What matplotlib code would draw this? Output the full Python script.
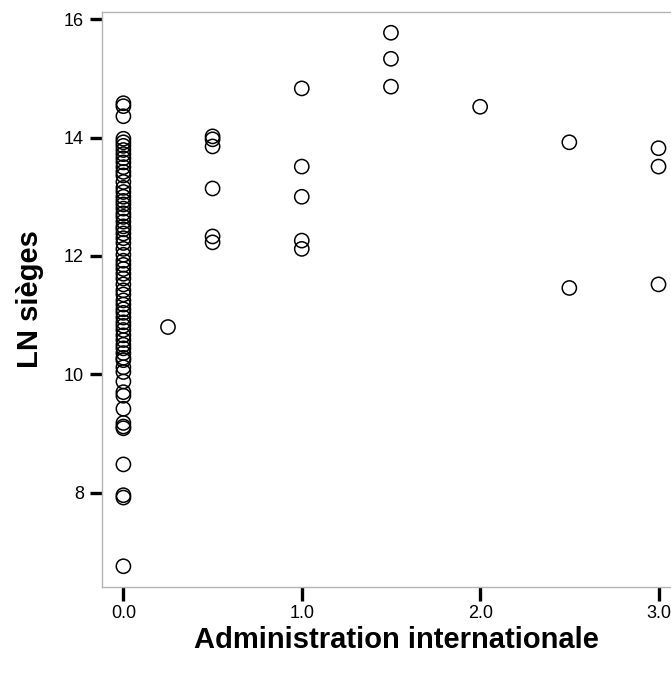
import numpy as np
import matplotlib
matplotlib.use("Agg")
import matplotlib.pyplot as plt

plt.rcParams['font.family'] = ['Liberation Sans', 'DejaVu Sans']

#%% donnees
admin_0 = [14.58, 14.53, 14.36, 13.98, 13.92, 13.86, 13.79, 13.72, 13.65, 13.58,
           13.50, 13.42, 13.36, 13.25, 13.15, 13.08, 13.00, 12.93, 12.87, 12.80,
           12.72, 12.66, 12.58, 12.50, 12.45, 12.38, 12.30, 12.22, 12.12, 12.02,
           11.92, 11.85, 11.78, 11.70, 11.62, 11.52, 11.42, 11.35, 11.25, 11.18,
           11.10, 11.04, 10.96, 10.88, 10.82, 10.75, 10.66, 10.58, 10.50, 10.44,
           10.36, 10.28, 10.24, 10.12, 10.04, 9.88, 9.70, 9.64, 9.42, 9.18,
           9.12, 9.09, 8.48, 7.96, 7.92, 6.76]
autres_x = [0.25,
            0.5, 0.5, 0.5, 0.5, 0.5, 0.5,
            1.0, 1.0, 1.0, 1.0, 1.0,
            1.5, 1.5, 1.5,
            2.0,
            2.5, 2.5,
            3.0, 3.0, 3.0]
autres_y = [10.80,
            14.02, 13.97, 13.85, 13.14, 12.33, 12.23,
            14.83, 13.51, 13.00, 12.26, 12.12,
            15.77, 15.33, 14.86,
            14.52,
            13.92, 11.46,
            13.82, 13.51, 11.52]

x = [0.0] * len(admin_0) + autres_x
y = admin_0 + autres_y

#%% figure
fig = plt.figure(figsize=(6.71, 6.76), dpi=100)
ax = fig.add_axes([0.152, 0.1317, 0.848, 0.8505])

ax.scatter(x, y, s=105, facecolors='none', edgecolors='black', linewidths=1.1, zorder=3)

ax.set_xlim(-0.12, 3.07)
ax.set_ylim(6.41, 16.12)
ax.set_xticks([0, 1, 2, 3])
ax.set_xticklabels(['0.0', '1.0', '2.0', '3.0'])
ax.set_yticks([8, 10, 12, 14, 16])

for s in ['left', 'top', 'bottom']:
    ax.spines[s].set_color('#b4b4b4')
    ax.spines[s].set_linewidth(1.0)
ax.spines['right'].set_visible(False)

ax.tick_params(axis='both', direction='out', length=10, width=2.4, color='black',
               labelsize=13, pad=3)
ax.tick_params(axis='y', length=9, pad=4)

ax.set_xlabel('Administration internationale', fontsize=21, fontweight='bold')
ax.xaxis.set_label_coords(0.517, -0.068)
ax.set_ylabel('LN sièges', fontsize=21, fontweight='bold', labelpad=14)

plt.savefig('out.png', dpi=100)
